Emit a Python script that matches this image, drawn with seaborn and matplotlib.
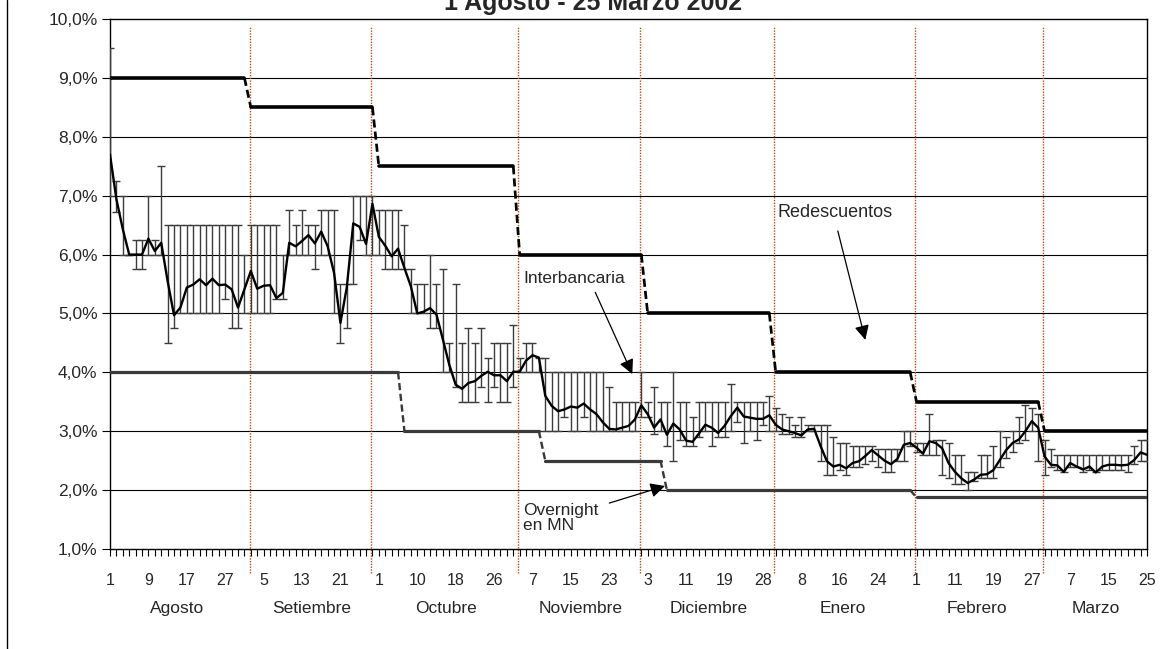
import pandas as pd
import numpy as np
import matplotlib.pyplot as plt
import seaborn as sns
from matplotlib.transforms import blended_transform_factory

# ---------- data ----------
title = "1 Agosto - 25 Marzo 2002"

# business days (Peru) shown on the axis
holidays = ["2001-08-30", "2001-10-08", "2001-11-01", "2001-11-02",
            "2001-12-25", "2002-01-01"]
dates = pd.bdate_range("2001-08-01", "2002-03-25")
dates = dates[~dates.isin(pd.to_datetime(holidays))]

months = ["Agosto", "Setiembre", "Octubre", "Noviembre",
          "Diciembre", "Enero", "Febrero", "Marzo"]

# tasa interbancaria promedio, maximo y minimo diario (%)
interbank = [
    7.70, 6.94, 6.43, 6.00, 6.00, 6.00, 6.27, 6.06, 6.20, 5.55,
    4.97, 5.10, 5.44, 5.49, 5.58, 5.48, 5.59, 5.48, 5.49, 5.41,
    5.10, 5.41, 5.72, 5.42, 5.47, 5.48, 5.26, 5.35, 6.20, 6.14,
    6.23, 6.33, 6.19, 6.39, 6.14, 5.69, 4.84, 5.45, 6.53, 6.47,
    6.18, 6.86, 6.30, 6.15, 5.97, 6.10, 5.77, 5.46, 5.00, 5.03,
    5.09, 4.98, 4.56, 4.13, 3.79, 3.72, 3.82, 3.85, 3.94, 4.01,
    3.95, 3.95, 3.85, 4.01, 4.01, 4.20, 4.29, 4.25, 3.60, 3.43,
    3.34, 3.37, 3.42, 3.40, 3.47, 3.37, 3.29, 3.15, 3.04, 3.03,
    3.06, 3.09, 3.20, 3.44, 3.29, 3.06, 3.20, 2.94, 3.13, 3.03,
    2.84, 2.82, 2.96, 3.11, 3.06, 2.97, 3.09, 3.26, 3.40, 3.25,
    3.23, 3.21, 3.21, 3.27, 3.11, 3.03, 3.00, 2.97, 2.93, 3.03,
    3.04, 2.75, 2.49, 2.40, 2.43, 2.37, 2.46, 2.49, 2.58, 2.68,
    2.59, 2.50, 2.44, 2.53, 2.77, 2.80, 2.72, 2.62, 2.83, 2.80,
    2.71, 2.46, 2.31, 2.20, 2.12, 2.18, 2.26, 2.27, 2.34, 2.51,
    2.68, 2.80, 2.86, 3.00, 3.17, 3.06, 2.57, 2.43, 2.42, 2.31,
    2.46, 2.40, 2.35, 2.40, 2.30, 2.40, 2.43, 2.43, 2.42, 2.43,
    2.51, 2.64, 2.60,
]
interbank_hi = [
    9.50, 7.25, 7.00, 6.00, 6.25, 6.25, 7.00, 6.25, 7.50, 6.50,
    6.50, 6.50, 6.50, 6.50, 6.50, 6.50, 6.50, 6.50, 6.50, 6.50,
    6.50, 6.00, 6.50, 6.50, 6.50, 6.50, 6.50, 6.00, 6.75, 6.50,
    6.75, 6.50, 6.50, 6.75, 6.75, 6.75, 5.50, 5.50, 7.00, 7.00,
    7.00, 7.00, 6.75, 6.75, 6.75, 6.75, 6.50, 5.75, 5.50, 5.50,
    6.00, 5.50, 5.75, 4.50, 5.50, 4.50, 4.75, 4.50, 4.75, 4.25,
    4.50, 4.50, 4.50, 4.80, 4.25, 4.50, 4.50, 4.25, 4.25, 4.00,
    4.00, 4.00, 4.00, 4.00, 4.00, 4.00, 4.00, 4.00, 3.75, 3.50,
    3.50, 3.50, 3.50, 4.00, 3.50, 3.75, 3.50, 3.50, 4.00, 3.50,
    3.50, 3.25, 3.50, 3.50, 3.50, 3.50, 3.50, 3.80, 3.50, 3.50,
    3.50, 3.50, 3.50, 3.60, 3.40, 3.30, 3.25, 3.10, 3.25, 3.10,
    3.10, 3.10, 3.10, 2.90, 2.80, 2.80, 2.75, 2.75, 2.75, 2.75,
    2.70, 2.70, 2.70, 2.70, 3.00, 3.00, 2.80, 2.80, 3.30, 2.85,
    2.85, 2.80, 2.60, 2.60, 2.30, 2.30, 2.60, 2.60, 2.75, 3.00,
    2.90, 3.00, 3.25, 3.45, 3.40, 3.30, 2.85, 2.70, 2.60, 2.60,
    2.60, 2.60, 2.60, 2.60, 2.60, 2.60, 2.60, 2.60, 2.60, 2.60,
    2.75, 2.85, 2.85,
]
interbank_lo = [
    7.00, 6.73, 6.00, 6.00, 5.75, 5.75, 6.00, 6.00, 6.00, 4.50,
    4.75, 5.00, 5.00, 5.00, 5.00, 5.00, 5.00, 5.00, 5.25, 4.75,
    4.75, 5.00, 5.00, 5.00, 5.00, 5.00, 5.25, 5.25, 6.00, 6.00,
    6.00, 6.00, 5.75, 6.00, 6.00, 5.00, 4.50, 4.75, 5.50, 6.25,
    6.00, 6.00, 6.00, 5.75, 5.75, 5.75, 5.75, 5.00, 5.00, 5.00,
    4.75, 4.75, 4.00, 4.00, 3.75, 3.50, 3.50, 3.50, 3.75, 3.50,
    3.75, 3.50, 3.50, 3.75, 4.00, 4.00, 4.00, 4.00, 3.00, 3.00,
    3.00, 3.25, 3.00, 3.00, 3.25, 3.00, 3.00, 3.00, 3.00, 3.00,
    3.00, 3.00, 3.00, 3.25, 3.25, 2.95, 3.00, 2.75, 2.50, 2.85,
    2.75, 2.75, 2.90, 3.00, 2.75, 2.90, 2.90, 3.00, 3.15, 2.80,
    3.00, 2.85, 3.10, 3.00, 3.00, 2.95, 2.95, 2.90, 2.90, 3.00,
    3.00, 2.50, 2.25, 2.25, 2.35, 2.25, 2.40, 2.40, 2.45, 2.50,
    2.40, 2.30, 2.30, 2.50, 2.50, 2.75, 2.65, 2.60, 2.60, 2.60,
    2.25, 2.20, 2.10, 2.10, 2.00, 2.15, 2.20, 2.20, 2.20, 2.40,
    2.55, 2.65, 2.80, 2.85, 3.00, 2.50, 2.25, 2.40, 2.35, 2.30,
    2.40, 2.40, 2.30, 2.35, 2.30, 2.35, 2.35, 2.35, 2.35, 2.30,
    2.45, 2.50, 2.50,
]

# tasas de referencia (%) y fechas de cambio
rede_levels = [9.0, 8.5, 7.5, 6.0, 5.0, 4.0, 3.5, 3.0]
rede_changes = ["2001-09-03", "2001-10-01", "2001-11-05", "2001-12-03",
                "2002-01-02", "2002-02-01", "2002-03-01"]
overnight_levels = [4.0, 3.0, 2.5, 2.0, 1.875]
overnight_changes = ["2001-10-05", "2001-11-09", "2001-12-06", "2002-02-01"]
marker_dates = ["2001-09-03", "2001-09-28", "2001-11-05", "2001-11-30",
                "2002-01-02", "2002-02-01", "2002-03-01"]

# ---------- helpers ----------
n = len(dates)
x = np.arange(n)


def idx_of(d):
    return int(np.searchsorted(dates, pd.Timestamp(d)))


# ---------- figure ----------
sns.set_theme(style="white")
plt.rcParams['font.family'] = ['Liberation Sans', 'DejaVu Sans']

fig = plt.figure(figsize=(11.61, 6.49), dpi=100)
ax = fig.add_axes([110 / 1161, 1 - 549 / 649, 1037 / 1161, 530 / 649])

# horizontal grid
for v in range(2, 10):
    ax.axhline(v, color="black", lw=0.8, zorder=1)

# policy change markers
for d in marker_dates:
    ax.vlines(idx_of(d) - 0.2, 0.6, 9.88, colors="#C04A10", lw=1.0,
              linestyles=(0, (1, 1)), clip_on=False, zorder=2)


def draw_steps(levels, changes, color, lw):
    bounds = [0] + [idx_of(d) for d in changes] + [n]
    for i, lev in enumerate(levels):
        a, b = bounds[i], bounds[i + 1] - 1
        sns.lineplot(x=[a, b], y=[lev, lev], color=color, lw=lw, ax=ax,
                     zorder=4)
        if i + 1 < len(levels):
            ax.plot([b, b + 1], [lev, levels[i + 1]], color=color,
                    lw=lw * 0.75, ls=(0, (3, 1.5)), zorder=4)


draw_steps(rede_levels, rede_changes, "black", 2.6)
draw_steps(overnight_levels, overnight_changes, "#3a3a3a", 2.3)

# interbank: range bars + average
hi = np.array(interbank_hi)
lo = np.array(interbank_lo)
ax.errorbar(x, (hi + lo) / 2, yerr=(hi - lo) / 2, fmt="none",
            ecolor="#3c3c3c", elinewidth=1.0, capsize=3, capthick=1.0,
            zorder=3)
sns.lineplot(x=x, y=interbank, color="black", lw=1.7, ax=ax, zorder=5)

# axes
ax.set_xlim(0, n - 1)
ax.set_ylim(1, 10)
yt = np.arange(1, 11)
ax.set_yticks(yt)
ax.set_yticklabels([f"{v:.1f}%".replace(".", ",") for v in yt],
                   fontsize=12.5)
ax.set_xticks(x)
ax.set_xticklabels([str(d.day) if i % 6 == 0 else "" for i, d in enumerate(dates)],
                   fontsize=11.5, family=['Liberation Sans Narrow', 'Liberation Sans'])
ax.tick_params(axis="x", length=5, width=0.8, pad=12, color="black",
               direction="out", bottom=True)
ax.tick_params(axis="y", length=6, width=0.8, pad=3, color="black",
               direction="out", left=True)
for s in ax.spines.values():
    s.set_color("black")
    s.set_linewidth(1.0)
ax.set_xlabel("")
ax.set_ylabel("")

# month names
tr = blended_transform_factory(ax.transData, ax.transAxes)
bounds = [0] + [idx_of(f"{y}-{m:02d}-01") for y, m in
                [(2001, 9), (2001, 10), (2001, 11), (2001, 12),
                 (2002, 1), (2002, 2), (2002, 3)]] + [n]
for i, name in enumerate(months):
    cx = (bounds[i] + bounds[i + 1] - 1) / 2
    ax.text(cx, -0.113, name, transform=tr, ha="center", va="center",
            fontsize=12.5)

# annotations
arrow = dict(arrowstyle="-|>", color="black", lw=0.9, mutation_scale=22,
             shrinkA=0, shrinkB=0)
ax.text(104.2, 6.71, "Redescuentos", fontsize=13, va="center")
ax.annotate("", xy=(118.0, 4.55), xytext=(113.7, 6.40), arrowprops=arrow)
ax.text(64.5, 5.59, "Interbancaria", fontsize=12.5, va="center")
ax.annotate("", xy=(81.6, 3.97), xytext=(75.8, 5.36), arrowprops=arrow)
ax.text(64.5, 1.53, "Overnight\nen MN", fontsize=12.5, va="center",
        linespacing=1.0)
ax.annotate("", xy=(86.7, 2.07), xytext=(78.0, 1.78), arrowprops=arrow)

# title (partly above the frame, as in the original)
fig.text(593 / 1161, 1 - 10 / 649, title, ha="center", va="baseline",
         fontsize=18, fontweight="bold")

# chart frame left edge
fig.add_artist(plt.Line2D([7 / 1161, 7 / 1161], [0, 1], color="black",
                          lw=1.0, transform=fig.transFigure))

fig.savefig("out.png", dpi=100)
